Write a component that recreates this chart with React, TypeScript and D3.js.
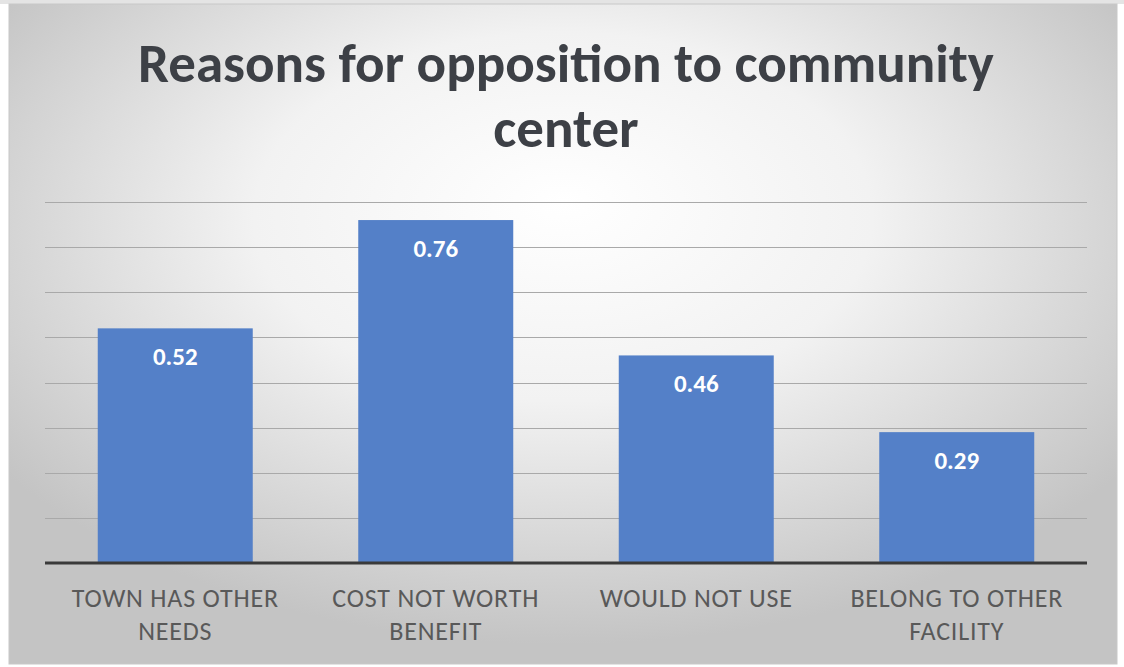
import React from "react";
import * as d3 from "d3";

const titleLines = ["Reasons for opposition to community", "center"];
const categories = [
  ["TOWN HAS OTHER", "NEEDS"],
  ["COST NOT WORTH", "BENEFIT"],
  ["WOULD NOT USE"],
  ["BELONG TO OTHER", "FACILITY"],
];
const values = [0.52, 0.76, 0.46, 0.29];
const yMax = 0.8;
const gridStep = 0.1;

const W = 1124;
const H = 667;
const FONT = "Calibri, Carlito, Lato, 'Open Sans', sans-serif";

export default function App() {
  const keys = categories.map((c) => c.join(" "));
  const x = d3
    .scaleBand<string>()
    .domain(keys)
    .range([45, 1087])
    .paddingInner(0.405)
    .paddingOuter(0.2025);
  const y = d3.scaleLinear().domain([0, yMax]).range([563, 202]);
  const grid = d3.range(gridStep, yMax + 1e-9, gridStep);

  return (
    <svg
      width={W}
      height={H}
      style={{ position: "absolute", left: 0, top: 0 }}
      fontFamily={FONT}
    >
      <defs>
        <radialGradient id="bg" cx="50%" cy="35%" r="62%" fx="50%" fy="30%">
          <stop offset="0%" stopColor="#ffffff" />
          <stop offset="45%" stopColor="#f2f2f2" />
          <stop offset="100%" stopColor="#c4c4c4" />
        </radialGradient>
      </defs>
      <rect x={0} y={0} width={W} height={H} fill="#ffffff" />
      <rect x={0} y={0} width={W} height={4} fill="#e4e4e4" />
      <rect
        x={9}
        y={4}
        width={1108}
        height={660}
        fill="url(#bg)"
        stroke="#c8c8c8"
        strokeWidth={1}
      />
      {titleLines.map((t, i) => (
        <text
          key={i}
          x={566}
          y={82 + i * 65}
          textAnchor="middle"
          fontSize={55}
          fontWeight="bold"
          fill="#3d4046"
        >
          {t}
        </text>
      ))}
      {grid.map((g) => (
        <line
          key={g}
          x1={45}
          x2={1087}
          y1={Math.round(y(g)) + 0.5}
          y2={Math.round(y(g)) + 0.5}
          stroke="#a9a9a9"
          strokeWidth={1}
        />
      ))}
      {values.map((v, i) => (
        <rect
          key={keys[i]}
          x={x(keys[i])}
          y={y(v)}
          width={x.bandwidth()}
          height={y(0) - y(v)}
          fill="#5480c8"
        />
      ))}
      <line x1={45} x2={1087} y1={563} y2={563} stroke="#3a3a3a" strokeWidth={3} />
      {values.map((v, i) => (
        <text
          key={"l" + i}
          x={(x(keys[i]) as number) + x.bandwidth() / 2}
          y={y(v) + 37}
          textAnchor="middle"
          fontSize={25}
          fontWeight="bold"
          fill="#ffffff"
        >
          {v.toFixed(2)}
        </text>
      ))}
      {categories.map((lines, i) =>
        lines.map((ln, j) => (
          <text
            key={"c" + i + j}
            x={(x(keys[i]) as number) + x.bandwidth() / 2}
            y={607 + j * 33}
            textAnchor="middle"
            fontSize={26}
            letterSpacing={0.8}
            fill="#595959"
          >
            {ln}
          </text>
        ))
      )}
    </svg>
  );
}
